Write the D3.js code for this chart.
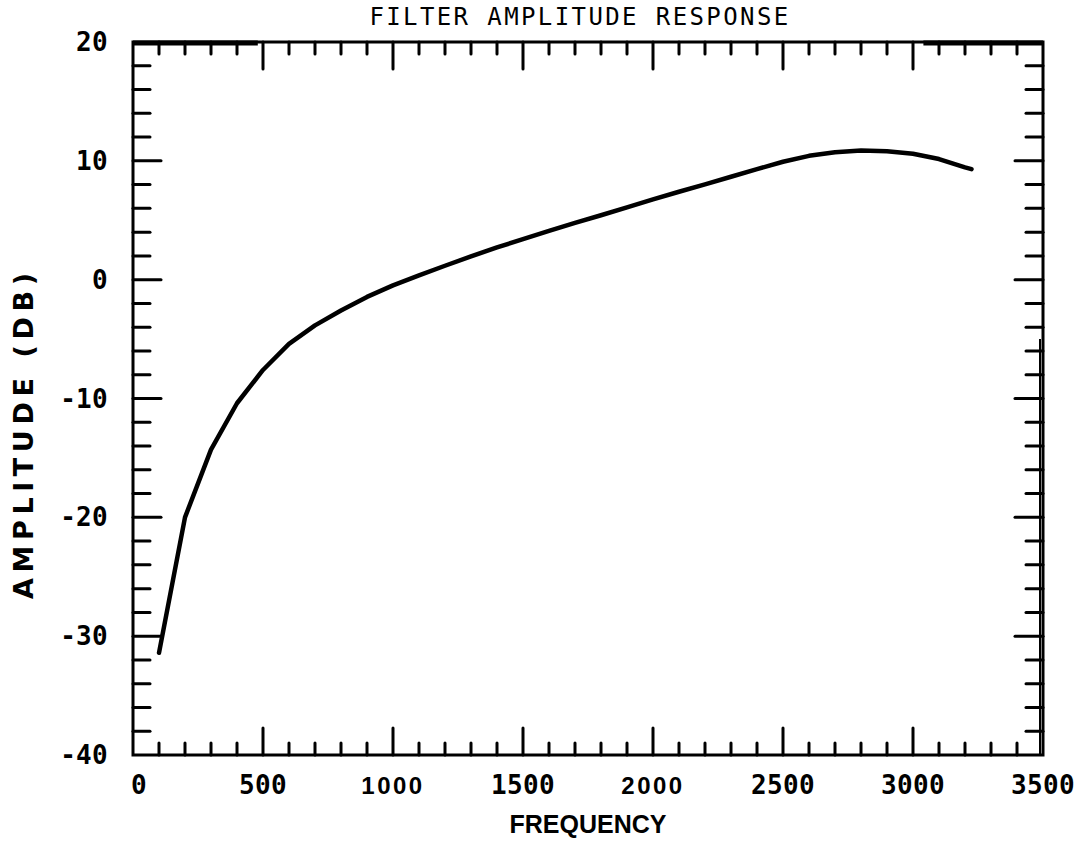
<!DOCTYPE html>
<html><head><meta charset="utf-8">
<script src="https://cdn.jsdelivr.net/npm/d3@7"></script>
<style>
html,body{margin:0;padding:0;background:#fff;}
svg{display:block;}
</style></head>
<body>
<svg id="chart" width="1076" height="841"></svg>
<script>
// ---- data ----
const frequency = [100,200,300,400,500,600,700,800,900,1000,1100,1200,1300,1400,1500,1600,1700,1800,1900,2000,2100,2200,2300,2400,2500,2600,2700,2800,2900,3000,3100,3200,3225];
const amplitudeDb = [-31.4,-20.0,-14.3,-10.4,-7.6,-5.4,-3.85,-2.6,-1.45,-0.48,0.36,1.17,1.96,2.71,3.41,4.1,4.78,5.42,6.08,6.75,7.4,8.02,8.66,9.3,9.92,10.42,10.72,10.86,10.8,10.6,10.15,9.45,9.3];
const xTickLabels = ["0","500","1000","1500","2000","2500","3000","3500"];
const yTickLabels = ["-40","-30","-20","-10","0","10","20"];
const xDomain = [0,3500];
const yDomain = [-40,20];
const titleText = "FILTER AMPLITUDE RESPONSE";
const xAxisTitle = "FREQUENCY";
const yAxisTitle = "AMPLITUDE (DB)";

// ---- layout ----
const L = 133, R = 1043, T = 42, B = 755;
const svg = d3.select("#chart");
const x = d3.scaleLinear().domain(xDomain).range([L, R]);
const y = d3.scaleLinear().domain(yDomain).range([B, T]);

const plotterFont = "'DejaVu Sans Mono', monospace";
const sansFont = "'Liberation Sans', Arial, sans-serif";

// frame
svg.append("rect").attr("x", L).attr("y", T).attr("width", R - L).attr("height", B - T)
  .attr("fill", "none").attr("stroke", "#000").attr("stroke-width", 3);
// thicker scan segments on top edge / doubled right edge
svg.append("line").attr("x1", L).attr("x2", x(480)).attr("y1", T + 1).attr("y2", T + 1)
  .attr("stroke", "#000").attr("stroke-width", 5);
svg.append("line").attr("x1", x(3040)).attr("x2", R).attr("y1", T + 1).attr("y2", T + 1)
  .attr("stroke", "#000").attr("stroke-width", 5);
svg.append("line").attr("x1", R - 3).attr("x2", R - 3).attr("y1", y(-5)).attr("y2", B)
  .attr("stroke", "#000").attr("stroke-width", 2);

// ticks
const xMinor = d3.range(xDomain[0], xDomain[1] + 1, 100);
const yMinor = d3.range(yDomain[0], yDomain[1] + 1, 2);
const isMajorX = v => v % 500 === 0;
const isMajorY = v => v % 10 === 0;

const tg = svg.append("g").attr("stroke", "#000").attr("stroke-width", 3).attr("stroke-linecap", "round");
xMinor.filter(v => v > xDomain[0] && v < xDomain[1]).forEach(v => {
  const len = isMajorX(v) ? 27 : 12;
  tg.append("line").attr("x1", x(v)).attr("x2", x(v)).attr("y1", B).attr("y2", B - len);
  tg.append("line").attr("x1", x(v)).attr("x2", x(v)).attr("y1", T).attr("y2", T + len);
});
yMinor.filter(v => v > yDomain[0] && v < yDomain[1]).forEach(v => {
  const len = isMajorY(v) ? 28 : 17;
  tg.append("line").attr("y1", y(v)).attr("y2", y(v)).attr("x1", L).attr("x2", L + len);
  tg.append("line").attr("y1", y(v)).attr("y2", y(v)).attr("x1", R).attr("x2", R - len);
});

// x tick labels
const xLab = svg.append("g");
xTickLabels.forEach(t => {
  const v = +t;
  const plain = (t === "1000" || t === "2000");
  xLab.append("text")
    .attr("x", x(v) + (v === 0 ? 6 : 0))
    .attr("y", 794)
    .attr("text-anchor", "middle")
    .attr("font-family", plain ? sansFont : plotterFont)
    .attr("font-weight", "bold")
    .attr("font-size", plain ? 24 : 26)
    .attr("letter-spacing", plain ? 2.5 : 0.3)
    .text(t);
});

// y tick labels
const yLab = svg.append("g");
yTickLabels.forEach(t => {
  const v = +t;
  yLab.append("text")
    .attr("x", 108)
    .attr("y", y(v) + 9)
    .attr("text-anchor", "end")
    .attr("font-family", plotterFont)
    .attr("font-weight", "bold")
    .attr("font-size", 26)
    .attr("letter-spacing", 0.3)
    .text(t);
});

// curve
const pts = frequency.map((f, i) => [f, amplitudeDb[i]]);
svg.append("path").datum(pts)
  .attr("fill", "none").attr("stroke", "#000").attr("stroke-width", 4.5)
  .attr("stroke-linejoin", "round").attr("stroke-linecap", "round")
  .attr("d", d3.line().x(d => x(d[0])).y(d => y(d[1])));

// title
svg.append("text").attr("x", 580).attr("y", 25).attr("text-anchor", "middle")
  .attr("font-family", plotterFont).attr("font-size", 24).attr("letter-spacing", 2.4)
  .text(titleText);

// x axis title
svg.append("text").attr("x", 588).attr("y", 833).attr("text-anchor", "middle")
  .attr("font-family", sansFont).attr("font-weight", "bold").attr("font-size", 25)
  .text(xAxisTitle);

// y axis title
svg.append("text").attr("transform", "translate(33,436) rotate(-90)")
  .attr("text-anchor", "middle")
  .attr("font-family", "'DejaVu Sans', sans-serif").attr("font-weight", "bold").attr("font-size", 27)
  .attr("textLength", 326).attr("lengthAdjust", "spacing")
  .text(yAxisTitle);
</script>
</body></html>
